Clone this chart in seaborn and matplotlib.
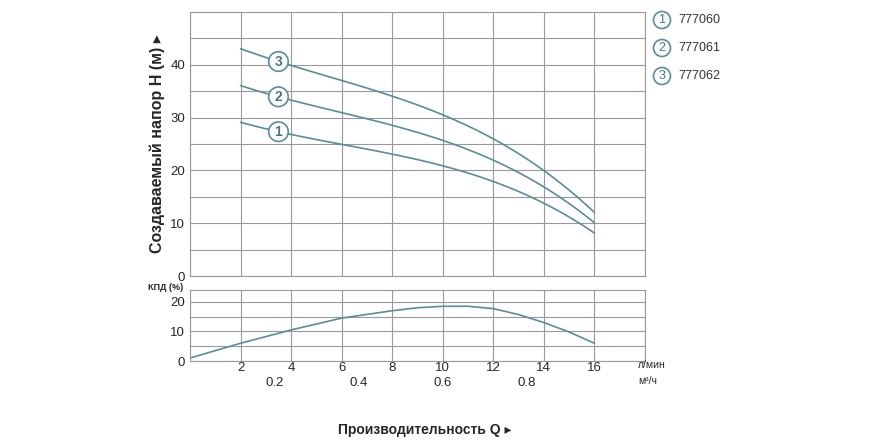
import matplotlib
matplotlib.use("Agg")
import matplotlib.pyplot as plt
import seaborn as sns
import numpy as np
import pandas as pd

sns.set_style("white")
plt.rcParams['font.family'] = ['Liberation Sans', 'DejaVu Sans']

q = [2, 4, 6, 8, 10, 12, 14, 16]
h1 = [29, 27, 25, 23, 20.6, 18, 14, 8]
h2 = [36, 33.4, 31, 28.5, 25.5, 22, 17, 10]
h3 = [43, 40, 37, 34, 30.5, 26, 20, 12]
labels = ["777060", "777061", "777062"]
eq = [0, 2, 4, 6, 8, 9, 10, 11, 12, 13, 14, 15, 16]
eff = [1, 6, 10.5, 14.5, 17, 18, 18.5, 18.5, 17.7, 15.7, 13, 9.8, 6]

col = "#5b8c9c"
fig = plt.figure(figsize=(8.7, 4.4), dpi=100)
ax = fig.add_axes([190/870, 1-276/440, 455/870, 264/440])
ax2 = fig.add_axes([190/870, 1-361/440, 455/870, 71/440])

rows = []
for lab, h in zip(labels, [h1, h2, h3]):
    for x, y in zip(q, h):
        rows.append((lab, x, y))
df = pd.DataFrame(rows, columns=["pump", "q", "h"])
for lab in labels:
    d = df[df.pump == lab]
    c = np.polyfit(d.q, d.h, 3)
    xs = np.linspace(2, 16, 100)
    sns.lineplot(x=xs, y=np.polyval(c, xs), ax=ax, color=col, lw=1.2)
for i, h in enumerate([h1, h2, h3]):
    c = np.polyfit(q, h, 3)
    yy = np.polyval(c, 3.5)
    ax.text(3.5, yy, str(i + 1), ha='center', va='center', fontsize=10, fontweight='bold', color='#4a7585',
            bbox=dict(boxstyle='circle,pad=0.2', fc='white', ec=col, lw=1.2))
    fig.text(662/870, 1-(20 + 28*i)/440, str(i + 1), ha='center', va='center', fontsize=9, color='#4a7585',
             bbox=dict(boxstyle='circle,pad=0.2', fc='white', ec=col, lw=1.2))
    fig.text(678/870, 1-(20 + 28*i)/440, labels[i], ha='left', va='center', fontsize=9, color='#333')

sns.lineplot(x=eq, y=eff, ax=ax2, color=col, lw=1.2)

for a in (ax, ax2):
    a.set_xlim(0, 18)
    a.set_xticks(np.arange(0, 19, 2))
    a.grid(True, color='#999', lw=0.8)
    for s in a.spines.values():
        s.set_color('#999')
    a.tick_params(length=0, labelsize=9.5)
ax.set_ylim(0, 50)
ax.set_yticks(np.arange(0, 51, 5))
ax.set_yticklabels([str(v) if v % 10 == 0 and v < 50 else "" for v in range(0, 51, 5)])
ax.set_xticklabels([])
ax.set_ylabel("Создаваемый напор H (м) ▸", fontsize=11.5, fontweight='bold')
ax2.set_ylim(0, 24)
ax2.set_yticks([0, 5, 10, 15, 20])
ax2.set_yticklabels(["0", "", "10", "", "20"])
ax2.set_xticklabels(["", "2", "4", "6", "8", "10", "12", "14", "16", ""])
ax2.tick_params(axis='x', pad=1)
fig.text(148/870, 1-287/440, "КПД (%)", fontsize=6.5, fontweight='bold', va='center')
fig.text(638/870, 1-365/440, "л/мин", fontsize=7.5, va='center')
fig.text(638/870, 1-381/440, "м³/ч", fontsize=7.5, va='center')
for v in [0.2, 0.4, 0.6, 0.8]:
    x = 190 + v * 1000 / 60 * 455 / 18
    fig.text(x/870, 1-383/440, f"{v}", ha='center', va='center', fontsize=9.5)
fig.text(425/870, 1-430/440, "Производительность Q ▸", ha='center', va='center', fontsize=10, fontweight='bold')
fig.savefig("out.png", dpi=100)
